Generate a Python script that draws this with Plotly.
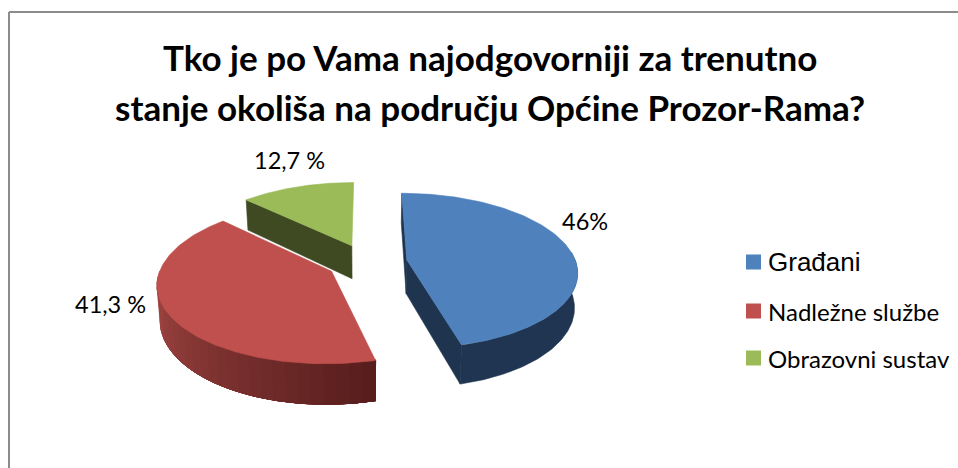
import numpy as np
import plotly.graph_objects as go

categories = ["Građani", "Nadležne službe", "Obrazovni sustav"]
values = [46.0, 41.3, 12.7]
value_labels = ["46%", "41,3 %", "12,7 %"]
title_lines = ["Tko je po Vama najodgovorniji za trenutno",
               "stanje okoliša na području Općine Prozor-Rama?"]
top_colors = ["#4f81bd", "#c0504d", "#9bbb59"]

# projection of the tilted pie onto the pixel-scaled axes
W, H = 958, 468
VX, CY = 367, 262
RX, RY, K = 169, 76.5, 0.142
EXPLODE = 0.238
DEPTH = 34
SHRINK = 0.985


def top(X, Y):
    w = 1 + K * Y
    return VX + RX * X / w, CY - RY * Y / w


def bottom(X, Y):
    x, y = top(X, Y)
    return VX + (x - VX) * SHRINK, y + DEPTH / (1 + K * Y)


def slice_geom(i):
    start = sum(values[:i]) / sum(values) * 2 * np.pi
    end = sum(values[:i + 1]) / sum(values) * 2 * np.pi
    mid = (start + end) / 2
    return start, end, EXPLODE * np.sin(mid), EXPLODE * np.cos(mid)


def poly(fig, xs, ys, color, lw=0.6):
    fig.add_trace(go.Scatter(x=list(xs) + [xs[0]], y=list(ys) + [ys[0]], mode="lines",
                             fill="toself", fillcolor=color,
                             line=dict(color=color, width=lw),
                             hoverinfo="skip", showlegend=False))


def radial_face(fig, i, angle, color):
    _, _, ox, oy = slice_geom(i)
    px, py = ox + np.sin(angle), oy + np.cos(angle)
    a, b = top(ox, oy), top(px, py)
    c, d = bottom(px, py), bottom(ox, oy)
    poly(fig, [a[0], b[0], c[0], d[0]], [a[1], b[1], c[1], d[1]], color)


def outer_wall(fig, i, a0, a1, c0, c1, bands):
    """Each band covers the wall from its own start to the wall's end, so no seams show."""
    _, _, ox, oy = slice_geom(i)
    c0, c1 = np.array(c0), np.array(c1)
    for j in range(bands):
        t = j / max(bands - 1, 1)
        color = "rgb(%d,%d,%d)" % tuple(c0 + (c1 - c0) * t)
        arc = np.linspace(a0 + (a1 - a0) * j / bands, a1, 80)
        upper = [top(ox + np.sin(a), oy + np.cos(a)) for a in arc]
        lower = [bottom(ox + np.sin(a), oy + np.cos(a)) for a in arc[::-1]]
        poly(fig, [p[0] for p in upper + lower], [p[1] for p in upper + lower], color)


def top_face(fig, i):
    a0, a1, ox, oy = slice_geom(i)
    angles = np.linspace(a0, a1, 120)
    pts = [top(ox, oy)] + [top(ox + np.sin(a), oy + np.cos(a)) for a in angles]
    poly(fig, [p[0] for p in pts], [p[1] for p in pts], top_colors[i])


fig = go.Figure()

# green (back)
a0, a1, _, _ = slice_geom(2)
radial_face(fig, 2, a0, "#3f4a22")
top_face(fig, 2)

# red: wall sweeps from the left extreme round to the front, lighter to darker
a0, a1, _, _ = slice_geom(1)
outer_wall(fig, 1, np.pi * 1.5, a0, (168, 74, 71), (88, 30, 29), bands=28)
top_face(fig, 1)

# blue
a0, a1, _, _ = slice_geom(0)
radial_face(fig, 0, a0, "#1f344f")
radial_face(fig, 0, a1, "#1f344f")
outer_wall(fig, 0, np.pi * 0.47, a1, (31, 53, 81), (31, 53, 81), bands=1)
top_face(fig, 0)

# legend: colour squares and their names
legend_x, legend_y = 753.5, [262, 311, 358]
fig.add_trace(go.Scatter(
    x=[legend_x] * len(categories), y=legend_y, mode="markers",
    marker=dict(symbol="square", size=15, color=top_colors, line=dict(width=0)),
    hoverinfo="skip", showlegend=False,
))

annotations = []
for y, line in zip([57, 107], title_lines):
    annotations.append(dict(x=490, y=y, text="<b>%s</b>" % line, xref="x", yref="y", showarrow=False,
                            xanchor="center", yanchor="middle",
                            font=dict(family="Lato", size=35, color="#000000")))
label_xy = [(585, 221), (110, 304), (289, 160)]
for (lx, ly), t in zip(label_xy, value_labels):
    annotations.append(dict(x=lx, y=ly, text=t, xref="x", yref="y", showarrow=False,
                            xanchor="center", yanchor="middle",
                            font=dict(family="Lato", size=23.5, color="#000000")))
legend_fonts = [("Liberation Sans", 26), ("Lato", 24), ("Lato", 24)]
for y, name, (fam, sz) in zip(legend_y, categories, legend_fonts):
    annotations.append(dict(x=769, y=y, text=name, xref="x", yref="y", showarrow=False,
                            xanchor="left", yanchor="middle", xshift=-3,
                            font=dict(family=fam, size=sz, color="#000000")))

fig.update_layout(
    width=W, height=H, margin=dict(l=0, r=0, t=0, b=0),
    paper_bgcolor="white", plot_bgcolor="white",
    showlegend=False,
    xaxis=dict(range=[0, W], visible=False, fixedrange=True),
    yaxis=dict(range=[H, 0], visible=False, fixedrange=True),
    annotations=annotations,
    shapes=[
        dict(type="line", xref="x", yref="y", x0=9, x1=9, y0=12, y1=H, line=dict(color="#8c8c8c", width=2)),
        dict(type="line", xref="x", yref="y", x0=9, x1=W, y0=12, y1=12, line=dict(color="#8c8c8c", width=2)),
    ],
)

fig.write_html("out.html", config={"displayModeBar": False},
               post_script="document.body.style.margin='0';document.body.style.overflow='hidden';")
